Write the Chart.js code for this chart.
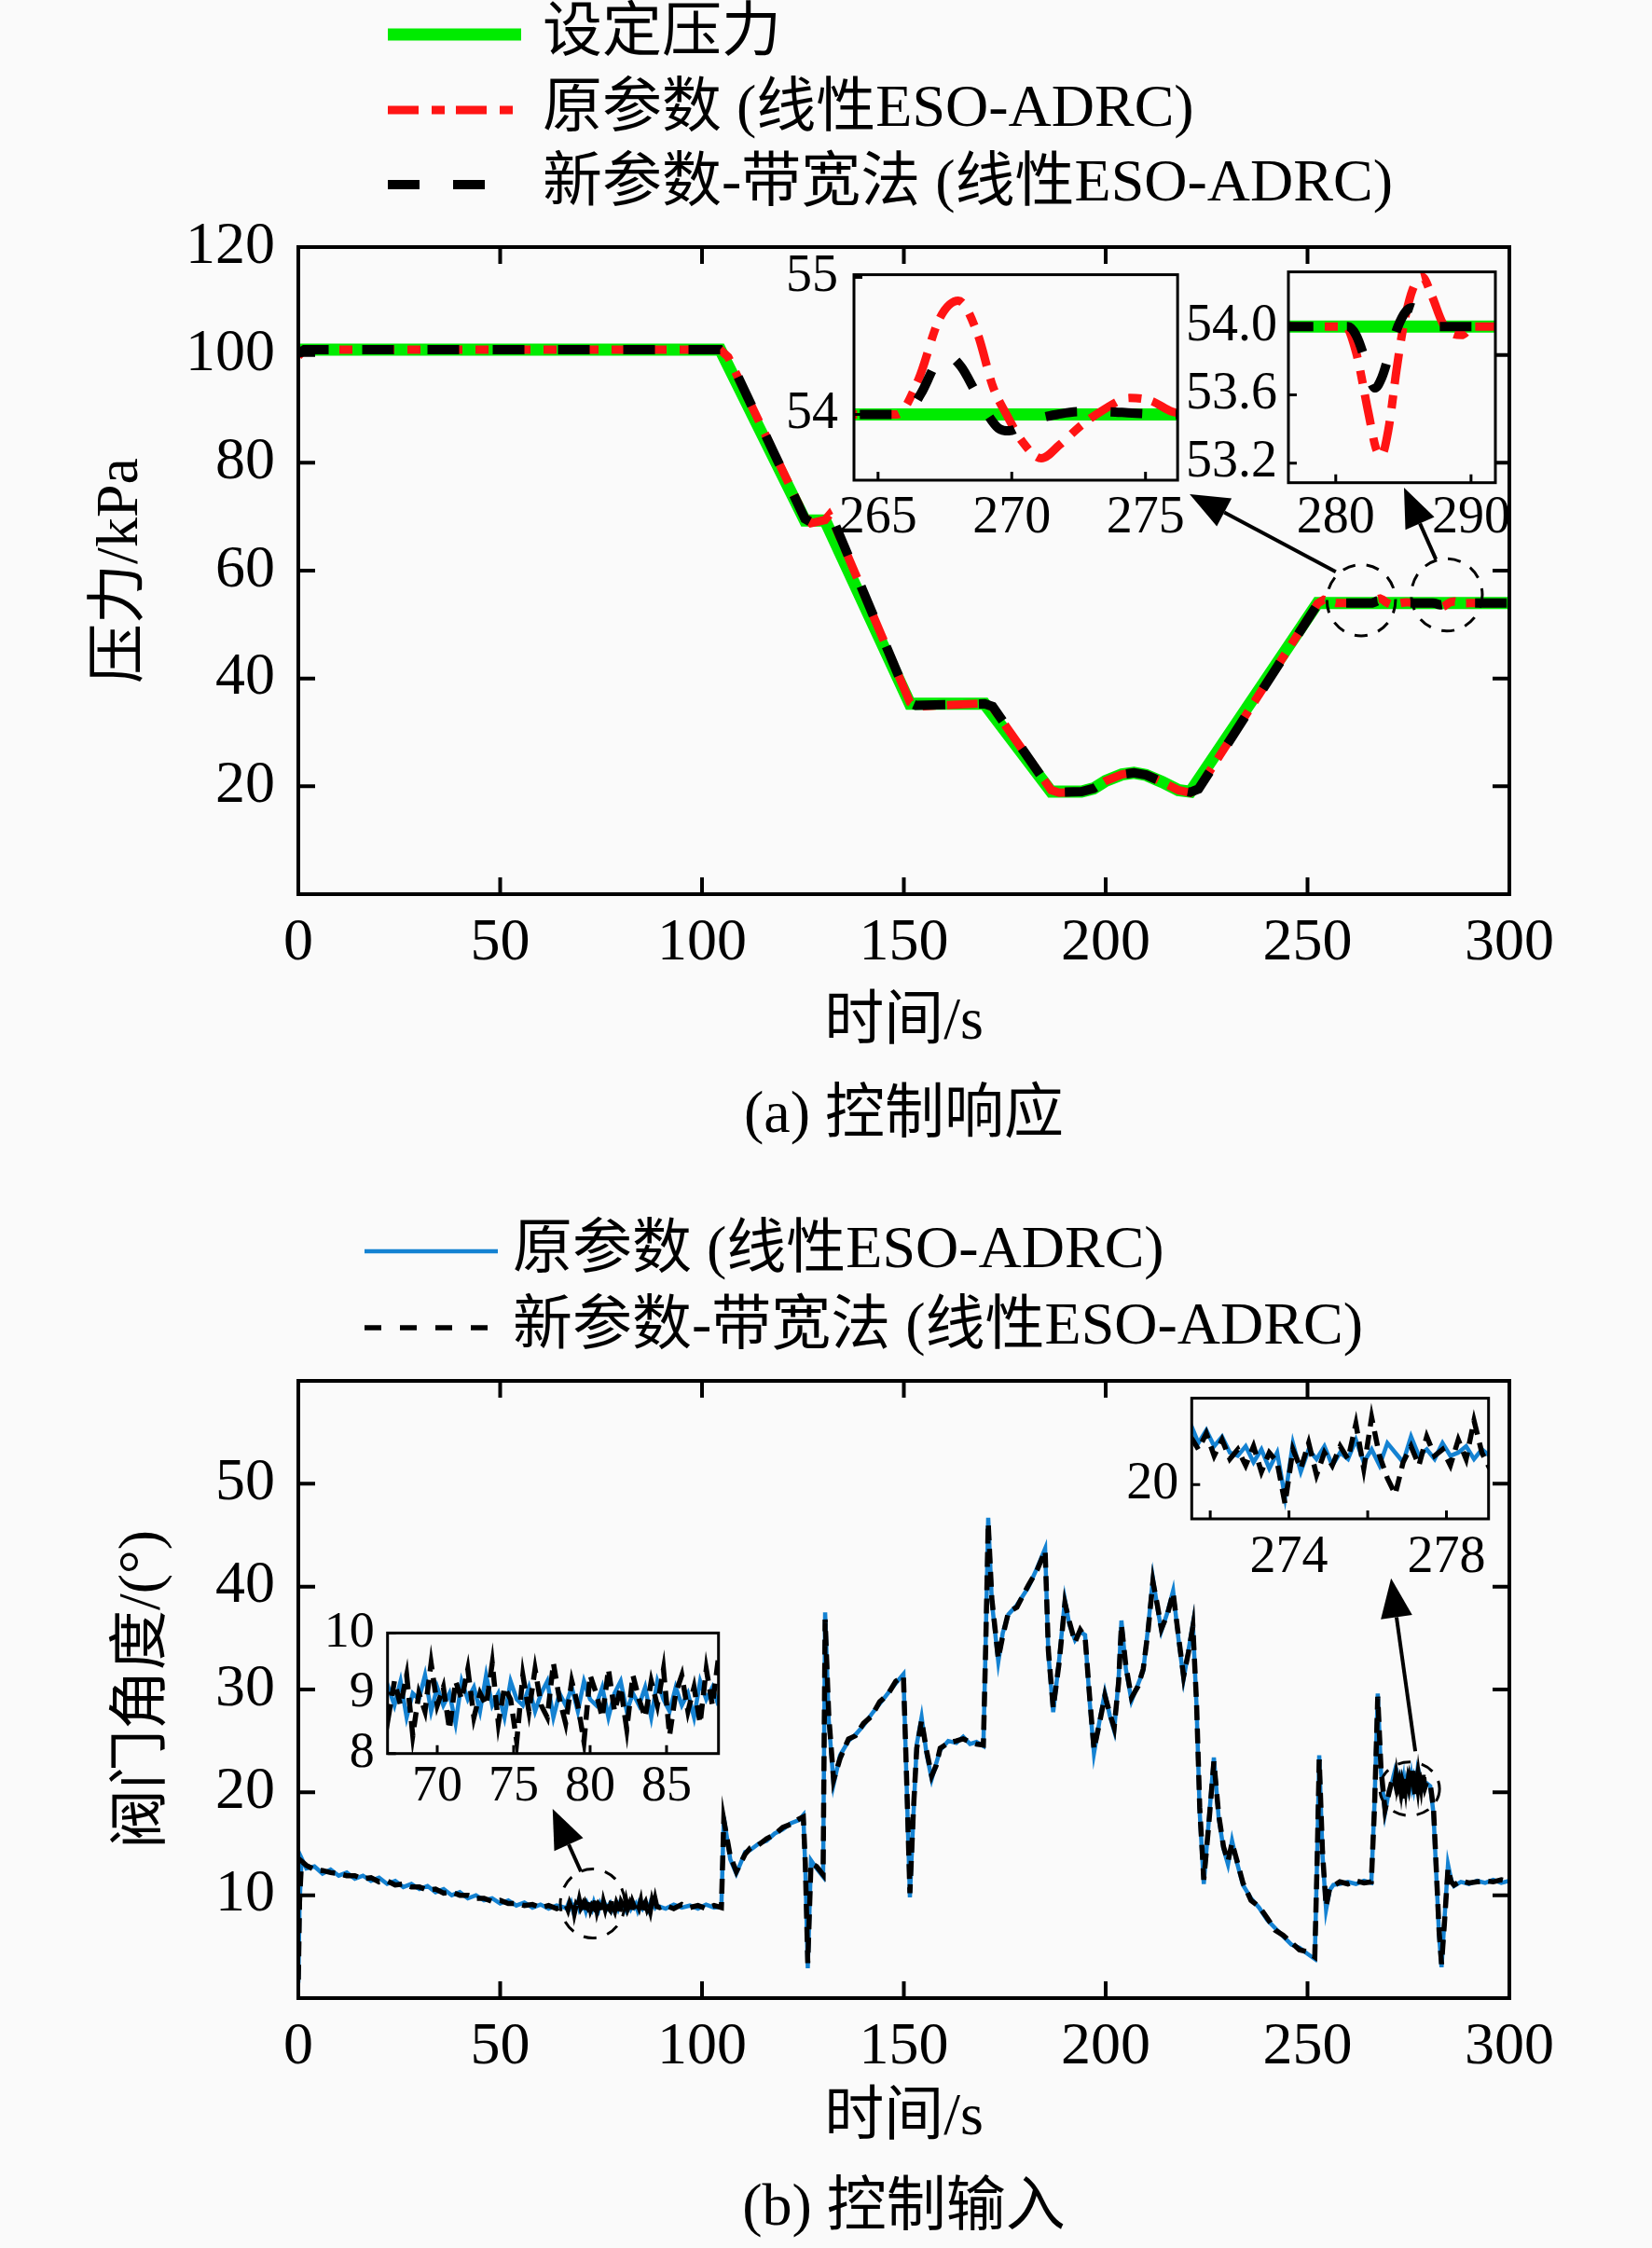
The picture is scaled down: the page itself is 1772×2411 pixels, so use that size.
<!DOCTYPE html>
<html>
<head>
<meta charset="utf-8">
<script src="https://cdn.jsdelivr.net/npm/chart.js@4.4.1/dist/chart.umd.min.js"></script>
<style>
  html, body { margin: 0; padding: 0; background: #fafafa; }
  body { position: relative; width: 1772px; height: 2411px; overflow: hidden; }
  canvas { position: absolute; }
</style>
</head>
<body>
<canvas id="mainTop" width="1772" height="1250" style="left:0px;top:0px"></canvas>
<canvas id="mainBottom" width="1772" height="1161" style="left:0px;top:1250px"></canvas>
<canvas id="insetA" width="460" height="356" style="left:820px;top:244px"></canvas>
<canvas id="insetB" width="385" height="354" style="left:1255px;top:246px"></canvas>
<canvas id="insetC" width="440" height="255" style="left:340px;top:1705px"></canvas>
<canvas id="insetD" width="415" height="268" style="left:1195px;top:1452px"></canvas>
<script>
// ---- (a) pressure response, kPa vs s ----
const setTime = [0, 104.5, 125.5, 130.5, 151.5, 170, 186.5, 194, 197, 200, 204, 207, 210, 214, 218, 221, 252.5, 300];
const setPressure = [101, 101, 69.3, 69.3, 35.3, 35.3, 19, 19, 19.6, 21, 22.2, 22.5, 22.1, 20.8, 19.3, 19, 54, 54];

const origTime = [0, 1.5, 104.5, 106.5, 125.5, 127, 130.5, 131.5, 133, 151.5,
  153, 170, 172, 186.5, 188.5, 194, 197, 200, 204, 207,
  210, 214, 218, 221, 223, 252.5, 254, 257, 265.7, 266.5,
  267.3, 268, 268.7, 269.3, 269.8, 270.4, 271.1, 271.8, 272.6, 273.4,
  274.4, 275.2, 276, 277, 280.7, 281.5, 282.4, 283, 283.4, 283.9,
  284.5, 285, 285.7, 286.4, 287.1, 287.9, 288.6, 289.3, 290.2, 291.5,
  300];
const origPressure = [99.8, 101, 101, 99.6, 69.9, 68.8, 69.4, 70.3, 68.2, 35.6,
  34.8, 35.4, 34.6, 19.3, 18.8, 19, 19.6, 21, 22.2, 22.6,
  22.2, 20.8, 19.3, 18.8, 19.6, 53.9, 54.6, 54.0, 54.0, 54.25,
  54.7, 54.83, 54.6, 54.2, 54.0, 53.8, 53.68, 53.78, 53.92, 54.03,
  54.12, 54.1, 54.02, 54.0, 54.0, 53.85, 53.5, 53.28, 53.25, 53.4,
  53.75, 54.0, 54.22, 54.29, 54.18, 54.02, 53.96, 53.95, 54.0, 54.0,
  54.0];

const newTime = [0, 1.5, 104.5, 106.5, 125.5, 127, 130.5, 131.5, 133, 151.5,
  153, 170, 172, 186.5, 188.5, 194, 197, 200, 204, 207,
  210, 214, 218, 221, 223, 252.5, 254, 257, 266, 266.6,
  267.2, 267.6, 268.1, 268.6, 269.1, 269.5, 269.9, 270.4, 271, 271.7,
  272.5, 273.5, 274.5, 276, 280.9, 281.5, 282.1, 282.5, 282.9, 283.4,
  284, 284.6, 285.2, 285.7, 286.3, 287, 287.6, 291.5, 300];
const newPressure = [100.2, 101, 101, 99.8, 69.6, 69.0, 69.3, 70.1, 68.5, 35.5,
  35.0, 35.3, 34.8, 19.2, 18.9, 19, 19.6, 21, 22.2, 22.5,
  22.1, 20.8, 19.3, 18.9, 19.5, 53.8, 54.4, 54.0, 54.0, 54.15,
  54.38, 54.43, 54.35, 54.18, 54.0, 53.9, 53.88, 53.92, 53.97, 54.0,
  54.02, 54.02, 54.01, 54.0, 54.0, 53.95, 53.82, 53.7, 53.64, 53.7,
  53.85, 54.0, 54.09, 54.11, 54.06, 54.01, 54.0, 54.0, 54.0];

// ---- (b) valve angle, deg vs s (split in pieces, joined below) ----
const angleTimeA = [0, 0.3, 0.8, 2, 4, 6, 8, 10, 12, 14, 16, 18, 20, 22, 24, 26, 28, 30, 32, 34,
  36, 38, 40, 42, 44, 46, 48, 50, 52, 54, 56, 58, 60, 62, 64, 66];
const angleOrigA = [1.5, 9.0, 13.6, 12.6, 12.8, 12.1, 12.5, 11.9, 12.2, 11.6, 11.9, 11.4, 11.7, 11.1, 11.4, 10.8, 11.1, 10.6, 10.9, 10.3,
  10.6, 10.0, 10.3, 9.7, 10.0, 9.5, 9.7, 9.2, 9.5, 9.0, 9.3, 8.8, 9.1, 8.7, 9.0, 8.8];
const angleNewA = [1.8, 9.4, 13.3, 12.9, 12.5, 12.4, 12.2, 12.1, 11.9, 11.9, 11.6, 11.7, 11.3, 11.4, 11.0, 11.1, 10.8, 10.8, 10.5, 10.6,
  10.2, 10.3, 10.0, 10.0, 9.7, 9.7, 9.4, 9.5, 9.2, 9.2, 9.0, 9.1, 8.8, 9.0, 8.7, 9.0];

const angleTimeB = [66.4, 66.8, 67.2, 67.6, 68.0, 68.4, 68.8, 69.2, 69.6, 70.0,
  70.4, 70.8, 71.2, 71.6, 72.0, 72.4, 72.8, 73.2, 73.6, 74.0,
  74.4, 74.8, 75.2, 75.6, 76.0, 76.4, 76.8, 77.2, 77.6, 78.0,
  78.4, 78.8, 79.2, 79.6, 80.0, 80.4, 80.8, 81.2, 81.6, 82.0,
  82.4, 82.8, 83.2, 83.6, 84.0, 84.4, 84.8, 85.2, 85.6, 86.0,
  86.4, 86.8, 87.2, 87.6, 88.0, 88.4, 88.8];
const angleOrigB = [8.7, 9.1, 8.8, 9.2, 8.6, 9.0, 8.9, 9.3, 8.7, 9.1,
  8.8, 9.0, 8.5, 9.2, 8.9, 9.1, 8.7, 9.3, 8.8, 9.0,
  8.6, 9.2, 8.9, 8.8, 9.1, 8.7, 9.0, 9.2, 8.6, 9.0,
  8.8, 9.1, 8.7, 9.2, 8.9, 8.8, 9.1, 8.6, 9.0, 9.2,
  8.7, 9.0, 8.8, 9.1, 8.6, 9.2, 8.9, 8.7, 9.1, 8.8,
  9.0, 8.6, 9.2, 8.9, 9.1, 8.8, 9.0];
const angleNewB = [9.0, 8.6, 9.2, 8.8, 9.3, 8.3, 9.0, 8.7, 9.5, 8.8,
  9.1, 8.4, 9.2, 8.9, 9.4, 8.6, 9.0, 8.8, 9.5, 8.5,
  9.1, 8.9, 8.2, 9.3, 8.7, 9.4, 8.8, 8.6, 9.5, 8.9,
  8.5, 9.2, 8.8, 8.2, 9.3, 9.0, 8.6, 9.4, 8.7, 9.1,
  8.4, 9.3, 8.9, 8.6, 9.2, 8.8, 9.4, 8.3, 9.0, 9.3,
  8.7, 9.1, 8.5, 9.4, 8.8, 9.6, 8.9];

const angleTimeC = [89.5, 91, 93, 95, 97, 99, 101, 103, 104.8];
const angleOrigC = [8.9, 8.7, 9.1, 8.8, 9.0, 8.7, 9.1, 8.8, 8.9];
const angleNewC = [8.8, 9.0, 8.7, 9.1, 8.8, 9.0, 8.7, 9.0, 8.8];

const angleTimeD = [105.4, 107, 108.5, 110.7, 112, 114, 116, 118, 120, 122,
  124, 125.1, 125.6, 126.2, 127, 128.4, 130, 130.5, 131.4, 132.6,
  134.2, 136.3, 138, 140, 142, 144, 146, 148, 149.9, 150.6,
  151.5, 152.4, 153.2, 154.4, 155.6, 156.9, 158, 159, 161, 163,
  164.7, 166.4, 168, 169.7, 170.3, 170.9, 171.8, 173.4, 174.5, 175.9,
  178, 180.8, 183, 185, 185.8, 187, 188.5, 189.9, 191, 192.4,
  193.7, 194.9, 196, 197.1, 198.5, 199.8, 201, 202.1, 203.2, 203.9,
  205, 206.4, 208, 209.3, 210.5, 211.7, 212.8, 213.8, 215.3, 216.7,
  218, 219.3, 220.5, 221.6, 222.5, 223.3, 224.3, 225.5, 226.8, 228,
  229.2, 230.3, 231.3, 232.5, 234, 236, 238, 240, 242, 244,
  246, 248, 250, 251.8, 252.4, 252.9, 253.7, 254.6, 255.5, 256.4,
  258, 260, 262, 264, 265.8, 266.6, 267.4, 268.2, 269.2, 270.2,
  270.9];
const angleOrigD = [17.6, 13.5, 12.1, 14.2, 14.4, 15.0, 15.3, 16.0, 16.4, 17.0,
  17.3, 17.8, 12.5, 2.9, 13.4, 12.6, 11.8, 37.5, 27, 20.8,
  23.6, 25.0, 25.6, 26.5, 27.6, 28.6, 29.6, 30.6, 31.5, 22,
  9.8, 18, 24.7, 27.3, 23.8, 21.3, 22.8, 24.1, 25.0, 24.8,
  25.4, 24.7, 24.9, 24.5, 35, 46.7, 38.5, 32.7, 35.5, 37.3,
  38.2, 39.9, 41.8, 43.7, 33.5, 27.8, 33, 38.7, 36.3, 34.8,
  35.6, 35.3, 29, 23.8, 27, 29.7, 27.5, 26.0, 31, 36.7,
  32, 28.9, 30.5, 31.8, 36, 40.8, 38, 35.7, 37.5, 39.6,
  35, 31.0, 33.8, 36.4, 28.5, 18, 11.1, 17, 23.4, 17.5,
  14.5, 13.0, 15.3, 13.2, 11.0, 9.7, 8.8, 7.6, 6.8, 6.0,
  5.2, 4.9, 4.3, 3.8, 14, 23.6, 14, 8.6, 10.5, 11.0,
  11.1, 11.3, 11.1, 11.4, 11.2, 19, 29.6, 22, 18.0, 20.2,
  20.9];
const angleNewD = [17.3, 13.8, 12.3, 14.0, 14.6, 14.9, 15.5, 15.9, 16.6, 16.9,
  17.4, 17.6, 13.0, 3.4, 13.1, 12.8, 12.0, 36.8, 27.5, 21.2,
  23.3, 25.2, 25.5, 26.7, 27.4, 28.8, 29.5, 30.8, 31.3, 22.5,
  10.2, 18.5, 24.3, 27.0, 24.1, 21.6, 22.6, 24.3, 24.8, 25.0,
  25.2, 24.9, 24.7, 24.6, 34.5, 46.2, 38.8, 33.0, 35.2, 37.5,
  38.0, 40.1, 41.6, 43.5, 33.8, 28.2, 32.7, 38.4, 36.6, 34.6,
  35.8, 35.1, 29.4, 24.2, 26.8, 29.4, 27.7, 26.3, 30.7, 36.3,
  32.3, 29.2, 30.3, 32.0, 35.7, 40.5, 38.2, 35.9, 37.3, 39.4,
  35.3, 31.3, 33.6, 36.1, 28.8, 18.5, 11.5, 16.7, 23.0, 17.8,
  14.7, 13.3, 15.1, 13.4, 11.2, 9.5, 8.9, 7.8, 6.6, 6.1,
  5.4, 4.7, 4.5, 4.0, 13.6, 23.2, 14.3, 8.9, 10.7, 10.9,
  11.3, 11.1, 11.4, 11.2, 11.3, 18.6, 29.3, 22.3, 18.3, 20.0,
  21.1];

const angleTimeE = [271.3, 271.5, 271.7, 271.9, 272.1, 272.3, 272.5, 272.7, 272.9, 273.1,
  273.3, 273.5, 273.7, 273.9, 274.1, 274.3, 274.5, 274.7, 274.9, 275.1,
  275.3, 275.5, 275.7, 275.9, 276.1, 276.3, 276.5, 276.7, 276.9, 277.1,
  277.3, 277.5, 277.7, 277.9, 278.1, 278.3, 278.5, 278.7, 278.9, 279.1];
const angleOrigE = [21.6, 21.9, 21.3, 21.7, 21.2, 21.5, 21.0, 20.9, 21.2, 20.7,
  21.1, 20.5, 21.0, 19.6, 21.3, 20.4, 21.1, 20.8, 21.2, 20.6,
  21.0, 20.8, 21.4, 20.7, 21.1, 20.6, 21.3, 21.0, 20.7, 21.5,
  20.9, 21.1, 20.8, 21.3, 20.9, 21.0, 21.2, 20.8, 21.1, 20.9];
const angleNewE = [21.3, 21.5, 21.1, 21.6, 20.9, 21.4, 20.8, 21.1, 20.6, 21.2,
  20.4, 21.0, 20.7, 19.4, 21.1, 20.5, 21.3, 20.3, 21.0, 20.6,
  21.2, 20.8, 21.9, 20.5, 22.1, 20.9, 20.2, 19.7, 20.7, 21.2,
  20.6, 21.5, 20.9, 21.1, 20.6, 21.4, 20.8, 22.0, 21.0, 20.5];

const angleTimeF = [279.5, 280.4, 281.2, 281.9, 282.6, 283.2, 283.9, 284.8, 285.6, 286.3, 288, 290, 292, 294, 296, 298, 300];
const angleOrigF = [20.9, 20.6, 18, 12, 6, 3.0, 7.5, 13.0, 11.5, 10.9, 11.3, 11.1, 11.4, 11.2, 11.5, 11.2, 11.4];
const angleNewF = [21.0, 20.8, 18.5, 12.5, 6.5, 3.3, 7.2, 12.6, 11.3, 11.0, 11.4, 11.2, 11.3, 11.4, 11.3, 11.5, 11.3];

const angleTime = [].concat(angleTimeA, angleTimeB, angleTimeC, angleTimeD, angleTimeE, angleTimeF);
const angleOrig = [].concat(angleOrigA, angleOrigB, angleOrigC, angleOrigD, angleOrigE, angleOrigF);
const angleNew = [].concat(angleNewA, angleNewB, angleNewC, angleNewD, angleNewE, angleNewF);

const LABEL_SET = '设定压力';
const LABEL_ORIG = '原参数 (线性ESO-ADRC)';
const LABEL_NEW = '新参数-带宽法 (线性ESO-ADRC)';

const FAMILY = "'Liberation Serif', 'Noto Sans CJK SC', serif";
const BG = '#fafafa';
Chart.defaults.font.family = FAMILY;
Chart.defaults.font.size = 64;
Chart.defaults.color = '#000';

function xy(ts, vs) {
    return ts.map((t, i) => ({ x: t, y: vs[i] }));
}

// main plot: straight segments, zoomed plots: smooth curves
function pressureSets(smooth) {
    const look = smooth
        ? { cubicInterpolationMode: 'monotone', capBezierPoints: false, pointRadius: 0, clip: 0 }
        : { tension: 0, pointRadius: 0, clip: 0 };
    return [
        Object.assign({ label: LABEL_SET, data: xy(setTime, setPressure), borderColor: 'rgb(0,235,0)', borderWidth: 13, order: 3 }, look),
        Object.assign({ label: LABEL_ORIG, data: xy(origTime, origPressure), borderColor: 'rgb(255,20,20)', borderWidth: 9, borderDash: [33, 14, 14, 12], order: 2 }, look),
        Object.assign({ label: LABEL_NEW, data: xy(newTime, newPressure), borderColor: '#000', borderWidth: 10, borderDash: [34, 36], order: 1 }, look),
    ];
}

function angleSets() {
    return [
        { label: LABEL_ORIG, data: xy(angleTime, angleOrig), borderColor: 'rgb(20,130,210)', borderWidth: 4.5, tension: 0, pointRadius: 0, order: 2, clip: 0 },
        { label: LABEL_NEW, data: xy(angleTime, angleNew), borderColor: '#000', borderWidth: 5.5, borderDash: [16, 9], tension: 0, pointRadius: 0, order: 1, clip: 0 },
    ];
}

// box around the plot + inward ticks
const frameTicks = {
    id: 'frameTicks',
    beforeDatasetsDraw(chart, args, o) {
        if (!o.fill) return;
        const a = chart.chartArea;
        chart.ctx.save();
        chart.ctx.fillStyle = o.fill;
        chart.ctx.fillRect(a.left, a.top, a.width, a.height);
        chart.ctx.restore();
    },
    afterDatasetsDraw(chart, args, o) {
        const { ctx, chartArea: a } = chart;
        const x = chart.scales.x, y = chart.scales.y;
        ctx.save();
        ctx.strokeStyle = '#000';
        ctx.lineWidth = o.width;
        ctx.setLineDash([]);
        ctx.beginPath();
        x.ticks.forEach(t => {
            const px = x.getPixelForValue(t.value);
            ctx.moveTo(px, a.bottom); ctx.lineTo(px, a.bottom - o.tick);
            if (o.mirror) { ctx.moveTo(px, a.top); ctx.lineTo(px, a.top + o.tick); }
        });
        y.ticks.forEach(t => {
            const py = y.getPixelForValue(t.value);
            ctx.moveTo(a.left, py); ctx.lineTo(a.left + o.tick, py);
            if (o.mirror) { ctx.moveTo(a.right, py); ctx.lineTo(a.right - o.tick, py); }
        });
        ctx.stroke();
        ctx.strokeRect(a.left, a.top, a.width, a.height);
        ctx.restore();
    }
};

function arrow(ctx, x1, y1, x2, y2) {
    const ang = Math.atan2(y2 - y1, x2 - x1), L = 42, W = 17;
    const bx = x2 - L * Math.cos(ang), by = y2 - L * Math.sin(ang);
    ctx.beginPath();
    ctx.moveTo(x1, y1); ctx.lineTo(bx, by);
    ctx.stroke();
    ctx.beginPath();
    ctx.moveTo(x2, y2);
    ctx.lineTo(bx + W * Math.sin(ang), by - W * Math.cos(ang));
    ctx.lineTo(bx - W * Math.sin(ang), by + W * Math.cos(ang));
    ctx.closePath();
    ctx.fill();
}

// legend, caption, zoom ellipses and arrows
const decor = {
    id: 'decor',
    afterDraw(chart, args, o) {
        const { ctx, chartArea: a } = chart;
        const x = chart.scales.x, y = chart.scales.y;
        ctx.save();
        ctx.font = '64px ' + FAMILY;
        ctx.textBaseline = 'middle';
        ctx.textAlign = 'left';
        ctx.fillStyle = '#000';
        const lg = o.legend;
        lg.order.forEach((di, k) => {
            const ds = chart.data.datasets[di];
            ctx.beginPath();
            ctx.strokeStyle = ds.borderColor;
            ctx.lineWidth = ds.borderWidth;
            ctx.setLineDash((lg.dash && lg.dash[k]) || ds.borderDash || []);
            ctx.moveTo(lg.x0, lg.ys[k]); ctx.lineTo(lg.x1[k], lg.ys[k]);
            ctx.stroke();
            ctx.fillText(ds.label, lg.tx, lg.ys[k]);
        });
        ctx.textAlign = 'center';
        ctx.fillText(o.caption.text, (a.left + a.right) / 2, o.caption.y);

        ctx.strokeStyle = '#000';
        ctx.lineWidth = 3;
        ctx.setLineDash([14, 12]);
        o.ellipses.forEach(e => {
            const cx = x.getPixelForValue(e.t), cy = y.getPixelForValue(e.v);
            const rx = x.getPixelForValue(e.t + e.rt) - cx, ry = cy - y.getPixelForValue(e.v + e.rv);
            ctx.beginPath();
            ctx.ellipse(cx, cy, rx, ry, 0, 0, Math.PI * 2);
            ctx.stroke();
        });
        ctx.setLineDash([]);
        ctx.lineWidth = 4;
        o.arrows.forEach(r => {
            arrow(ctx, x.getPixelForValue(r.from[0]), y.getPixelForValue(r.from[1]),
                x.getPixelForValue(r.to[0]), y.getPixelForValue(r.to[1]));
        });
        ctx.restore();
    }
};

function axis(o) {
    return {
        type: 'linear', min: o.min, max: o.max,
        ticks: {
            stepSize: o.step, includeBounds: false, autoSkip: false, maxRotation: 0,
            padding: o.pad, font: { size: o.font }, callback: o.cb || (v => v)
        },
        grid: { display: false, drawTicks: false },
        border: { display: false },
        title: o.title ? { display: true, text: o.title, font: { size: 64 }, padding: o.titlePad } : { display: false },
        afterFit: s => { if (s.isHorizontal()) s.height = o.size; else s.width = o.size; }
    };
}

function makeChart(id, datasets, o) {
    return new Chart(document.getElementById(id), {
        type: 'line',
        data: { datasets },
        plugins: o.decor ? [frameTicks, decor] : [frameTicks],
        options: {
            responsive: false,
            animation: false,
            devicePixelRatio: 1,
            events: [],
            layout: { padding: o.padding },
            plugins: {
                legend: { display: false },
                tooltip: { enabled: false },
                frameTicks: o.frame,
                decor: o.decor || {}
            },
            scales: { x: axis(o.x), y: axis(o.y) }
        }
    });
}

const mainFrame = { width: 4, tick: 18, mirror: true };
const insetFrame = { width: 3, tick: 9, mirror: false, fill: BG };

// (a)
makeChart('mainTop', pressureSets(false), {
    padding: { top: 265, right: 153, bottom: 0, left: 0 },
    frame: mainFrame,
    x: { min: 0, max: 300, step: 50, pad: 15, font: 64, size: 291, title: '时间/s', titlePad: { top: 0, bottom: 114 } },
    y: { min: 0, max: 120, step: 20, pad: 25, font: 64, size: 320, title: '压力/kPa', titlePad: { top: 92, bottom: 0 },
        cb: v => (v > 0 ? v : '') },
    decor: {
        legend: { x0: 416, x1: [559, 559, 524], tx: 582, ys: [37, 118, 198], order: [0, 1, 2] },
        caption: { text: '(a) 控制响应', y: 1197 },
        ellipses: [{ t: 263.3, v: 54.5, rt: 8.5, rv: 6.6 }, { t: 284.5, v: 55.5, rt: 8.8, rv: 6.7 }],
        arrows: [{ from: [257.0, 59.8], to: [220.8, 74.2] }, { from: [281.8, 62.1], to: [273.9, 75.4] }]
    }
});

// (b)
makeChart('mainBottom', angleSets(), {
    padding: { top: 231, right: 153, bottom: 0, left: 0 },
    frame: mainFrame,
    x: { min: 0, max: 300, step: 50, pad: 15, font: 64, size: 268, title: '时间/s', titlePad: { top: 0, bottom: 100 } },
    y: { min: 0, max: 60, step: 10, pad: 25, font: 64, size: 320, title: '阀门角度/(°)', titlePad: { top: 116, bottom: 0 },
        cb: v => (v > 0 && v < 60 ? v : '') },
    decor: {
        legend: { x0: 391, x1: [534, 526], tx: 550, ys: [92, 174], order: [0, 1], dash: [null, [18, 20]] },
        caption: { text: '(b) 控制输入', y: 1119 },
        ellipses: [{ t: 72.9, v: 9.2, rt: 8.0, rv: 3.35 }, { t: 275.3, v: 20.35, rt: 7.4, rv: 2.6 }],
        arrows: [{ from: [70.0, 12.3], to: [63.0, 18.4] }, { from: [276.7, 24.0], to: [270.7, 40.8] }]
    }
});

// zoomed views
makeChart('insetA', pressureSets(true), {
    padding: { top: 45, right: 13, bottom: 0, left: 0 },
    frame: insetFrame,
    x: { min: 264.1, max: 276.2, step: 5, pad: 8, font: 56, size: 85 },
    y: { min: 53.52, max: 55.02, step: 1, pad: 17, font: 56, size: 96 }
});

makeChart('insetB', pressureSets(true), {
    padding: { top: 44.7, right: 36, bottom: 0, left: 0 },
    frame: insetFrame,
    x: { min: 276.5, max: 291.8, step: 10, pad: 5, font: 56, size: 82.3 },
    y: { min: 53.085, max: 54.32, step: 0.4, pad: 12, font: 56, size: 127, cb: v => v.toFixed(1) }
});

makeChart('insetC', angleSets(), {
    padding: { top: 45, right: 9.3, bottom: 0, left: 0 },
    frame: insetFrame,
    x: { min: 66.75, max: 88.4, step: 5, pad: 4, font: 54, size: 79.3 },
    y: { min: 8, max: 10, step: 1, pad: 14, font: 54, size: 75.7 }
});

makeChart('insetD', angleSets(), {
    padding: { top: 44.7, right: 13.3, bottom: 0, left: 0 },
    frame: insetFrame,
    x: { min: 271.53, max: 279.07, step: 2, pad: 8.6, font: 56, size: 91, cb: v => (v === 274 || v === 278 ? v : '') },
    y: { min: 18.93, max: 22.7, step: 5, pad: 14, font: 56, size: 83.3 }
});
</script>
</body>
</html>
